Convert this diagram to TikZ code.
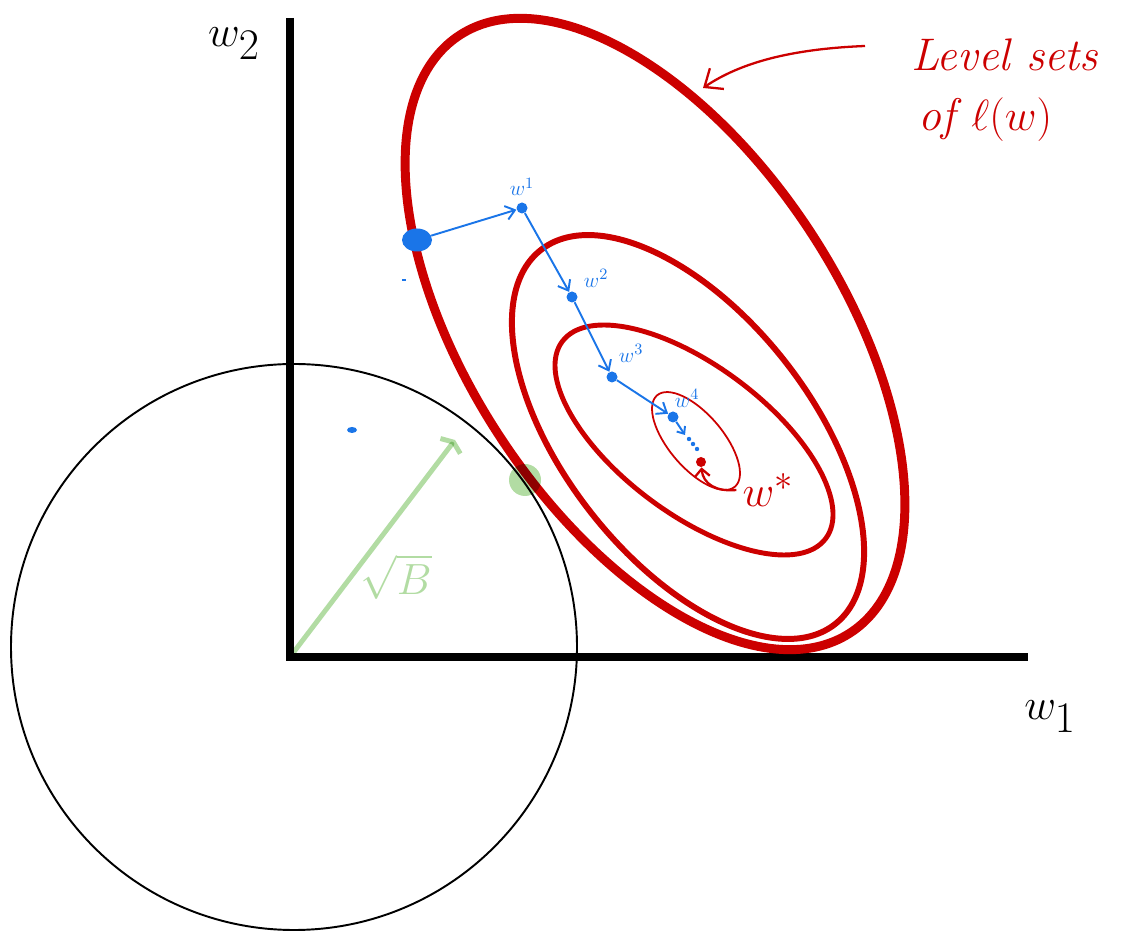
\documentclass[tikz,border=0pt]{standalone}
\usepackage{tikz}
\usetikzlibrary{arrows.meta,positioning,shapes.geometric}
\definecolor{lossred}{HTML}{CC0000}
\definecolor{stepblue}{HTML}{1A75E8}
\definecolor{ballgreen}{HTML}{B2DCA3}

\begin{document}
\begin{tikzpicture}[
  x=0.02cm, y=0.02cm,
  axis/.style={line width=4pt},
  level/.style={draw=lossred},
  iter/.style={circle, fill=stepblue, inner sep=0pt, minimum size=0.22cm},
  iterlbl/.style={text=stepblue, font=\fontsize{13}{13}\selectfont, inner sep=0pt},
  steparr/.style={-{Straight Barb[length=1.8mm, width=2.8mm]}, line width=1.1pt, stepblue},
  redarr/.style={-{Straight Barb[length=3mm, width=5mm]}, line width=1.3pt, lossred},
  hilite/.style={ballgreen, line width=2.8pt, line cap=round},
]
\useasboundingbox (0,0) rectangle (1122,933);

% axes and the constraint ball
\coordinate (O) at (290,276);
\coordinate (ytop) at (290,915);
\coordinate (xend) at (1028,276);
\draw[axis] (ytop) -- (O) -- (xend);
\node[font=\fontsize{34}{34}\selectfont] (w2ax) at (234,889) {$w_2$};
\node[font=\fontsize{34}{34}\selectfont] (w1ax) at (1050,216) {$w_1$};
\draw[line width=1.1pt] (294,286) circle (283);

% level sets of the loss
\draw[level, line width=5.1pt] (655,599) ellipse [x radius=357, y radius=186, rotate=-56.8];
\draw[level, line width=3.4pt] (688,496) ellipse [x radius=238, y radius=123, rotate=-51.8];
\draw[level, line width=2.8pt] (694,493) ellipse [x radius=164.5, y radius=74, rotate=-36.8];
\draw[level, line width=1pt] (696,492) ellipse [x radius=60, y radius=27, rotate=-49.6];

\node[text=lossred, font=\itshape\fontsize{26}{34}\selectfont, align=left, anchor=west] (lvl) at (905,843) {Level sets\\ \,of $\ell(w)$};
\coordinate (lvltail) at (865,887);
\coordinate (lvlhead) at (703,845);
\draw[redarr] (lvltail) .. controls (790,884) and (740,870) .. (lvlhead);

% gradient steps
\node[iter, shape=ellipse, minimum width=0.6cm, minimum height=0.46cm] (w0) at (417,693) {};
\node[iter] (w1) at (522,725) {};
\node[iter] (w2) at (572,636) {};
\node[iter] (w3) at (612,556) {};
\node[iter] (w4) at (673,516) {};
\coordinate (w5) at (685,498);
\node[iterlbl, above=0.12cm of w1] {$w^1$};
\node[iterlbl, above right=0.1cm and 0.15cm of w2] {$w^2$};
\node[iterlbl, above right=0.2cm and 0.05cm of w3] {$w^3$};
\node[iterlbl, above right=0.1cm and -0.05cm of w4] {$w^4$};
\draw[steparr] (w0) -- (w1);
\draw[steparr] (w1) -- (w2);
\draw[steparr] (w2) -- (w3);
\draw[steparr] (w3) -- (w4);
\draw[steparr, -{Straight Barb[length=1.2mm, width=2mm]}] (w4) -- (w5);
\foreach \k in {0,1,2}
  \fill[stepblue] ({689+4*\k},{494-5*\k}) circle (2.2);
\fill[stepblue] (352,503) ellipse (5 and 3);
\fill[stepblue] (402,652) rectangle (406,654);

% optimum
\node[circle, fill=lossred, inner sep=0pt, minimum size=0.2cm] (wstar) at (701,471) {};
\node[text=lossred, font=\fontsize{32}{32}\selectfont] (wstarlbl) at (768,443) {$w^{*}$};
\draw[lossred, line width=1.3pt, -{Straight Barb[length=1.5mm, width=3mm]}] (wstarlbl.west) .. controls +(-20,-2) and +(2,-22) .. (wstar);

% radius of the ball
\coordinate (gtip) at (455,493);
\begin{scope}[blend mode=multiply]
\draw[hilite, -{Straight Barb[length=1mm, width=5mm]}] (O) -- (gtip);
\fill[ballgreen] (525,453) circle (16);
\node[text=ballgreen, font=\fontsize{24}{24}\selectfont] (rad) at (396,356) {$\sqrt{B}$};
\end{scope}
\end{tikzpicture}
\end{document}
